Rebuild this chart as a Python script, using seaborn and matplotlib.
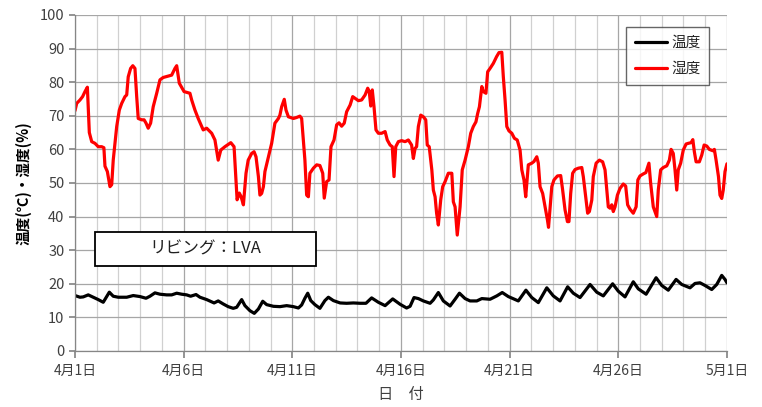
import pandas as pd
import matplotlib
matplotlib.use("Agg")
import matplotlib.pyplot as plt
from matplotlib.patches import Rectangle
import seaborn as sns

# days since 4/1 00:00 and values
hum_day = [0.00, 0.08, 0.23, 0.35, 0.46, 0.57, 0.66, 0.77, 0.92, 1.07, 1.23, 1.33, 1.38, 1.49, 1.61,
           1.69, 1.76, 1.92, 2.04, 2.15, 2.30, 2.38, 2.45, 2.56, 2.66, 2.76, 2.84, 2.91, 3.07, 3.18,
           3.27, 3.37, 3.48, 3.60, 3.76, 3.91, 4.06, 4.29, 4.45, 4.60, 4.68, 4.80, 5.02, 5.29, 5.37,
           5.52, 5.67, 5.90, 6.06, 6.29, 6.44, 6.59, 6.71, 6.90, 7.17, 7.32, 7.46, 7.56, 7.64, 7.75,
           7.87, 7.97, 8.13, 8.24, 8.33, 8.44, 8.51, 8.59, 8.67, 8.74, 8.90, 9.05, 9.20, 9.36, 9.43,
           9.51, 9.63, 9.71, 9.82, 10.05, 10.20, 10.35, 10.43, 10.51, 10.58, 10.66, 10.74, 10.81, 10.97, 11.12,
           11.27, 11.40, 11.47, 11.58, 11.69, 11.78, 11.92, 12.04, 12.15, 12.27, 12.39, 12.50, 12.66, 12.78, 12.89,
           13.04, 13.19, 13.35, 13.47, 13.54, 13.61, 13.68, 13.76, 13.85, 13.96, 14.11, 14.27, 14.37, 14.50, 14.60,
           14.68, 14.76, 14.88, 15.03, 15.19, 15.34, 15.49, 15.57, 15.65, 15.72, 15.80, 15.91, 16.03, 16.14, 16.21,
           16.30, 16.42, 16.49, 16.57, 16.64, 16.72, 16.83, 16.92, 17.03, 17.18, 17.34, 17.41, 17.49, 17.59, 17.72,
           17.82, 17.95, 18.10, 18.21, 18.33, 18.45, 18.53, 18.61, 18.72, 18.79, 18.91, 18.99, 19.10, 19.25, 19.40,
           19.51, 19.64, 19.71, 19.79, 19.87, 19.97, 20.10, 20.22, 20.35, 20.48, 20.56, 20.66, 20.74, 20.86, 21.02,
           21.12, 21.25, 21.32, 21.40, 21.52, 21.63, 21.74, 21.79, 21.94, 22.04, 22.20, 22.35, 22.43, 22.55, 22.66,
           22.73, 22.81, 22.90, 23.01, 23.16, 23.32, 23.39, 23.50, 23.59, 23.67, 23.78, 23.85, 23.98, 24.13, 24.28,
           24.39, 24.47, 24.54, 24.62, 24.70, 24.77, 24.85, 24.96, 25.08, 25.23, 25.34, 25.43, 25.54, 25.69, 25.82,
           25.90, 26.00, 26.15, 26.27, 26.41, 26.49, 26.61, 26.77, 26.84, 26.95, 27.07, 27.23, 27.35, 27.43, 27.53,
           27.61, 27.69, 27.76, 27.87, 27.99, 28.12, 28.22, 28.35, 28.43, 28.50, 28.58, 28.73, 28.84, 28.95, 29.07,
           29.19, 29.35, 29.42, 29.50, 29.61, 29.68, 29.76, 29.83, 29.91, 30.00]
hum_val = [71.5, 73.7, 74.7, 75.7, 77.2, 78.5, 65.0, 62.3, 61.8, 60.8, 60.8, 60.5, 55.0, 53.4, 48.9,
           49.5, 56.8, 66.8, 71.7, 73.7, 75.7, 76.2, 81.6, 84.1, 84.9, 84.1, 75.7, 69.2, 68.8, 68.8,
           67.8, 66.3, 67.8, 72.7, 76.7, 80.7, 81.4, 81.8, 82.1, 84.1, 84.9, 79.7, 77.2, 76.7, 74.7,
           71.7, 69.2, 65.8, 66.3, 64.8, 62.8, 56.8, 59.8, 60.8, 62.0, 60.8, 45.0, 47.0, 46.0, 43.5,
           52.9, 56.8, 58.8, 59.3, 57.8, 51.9, 46.4, 46.9, 48.9, 53.4, 57.8, 61.8, 67.8, 69.2, 70.2,
           72.7, 74.9, 71.7, 69.7, 69.2, 69.5, 69.9, 69.2, 62.8, 56.8, 46.4, 45.9, 52.9, 54.4, 55.4,
           55.2, 52.9, 45.5, 50.4, 50.9, 60.8, 62.8, 67.3, 67.9, 66.9, 67.8, 71.2, 73.2, 75.7, 75.2,
           74.5, 74.7, 76.2, 78.2, 77.2, 72.9, 77.7, 72.7, 65.8, 64.8, 64.8, 65.3, 62.8, 61.3, 60.8,
           51.9, 60.8, 62.3, 62.6, 62.3, 62.8, 61.3, 57.3, 60.3, 60.8, 66.8, 70.2, 69.7, 68.8, 61.3,
           60.8, 53.9, 47.9, 45.9, 41.0, 37.5, 45.0, 48.9, 50.4, 52.9, 52.9, 44.4, 42.9, 34.5, 42.9,
           53.9, 56.8, 60.8, 64.8, 66.8, 68.2, 70.7, 72.7, 78.7, 77.2, 76.7, 83.1, 84.1, 85.6, 87.6,
           88.8, 88.9, 81.6, 74.7, 66.8, 65.5, 64.8, 63.3, 62.8, 59.8, 53.9, 50.9, 45.9, 55.4, 55.9,
           56.4, 57.8, 55.9, 48.9, 46.9, 42.9, 39.0, 36.8, 48.9, 50.9, 52.1, 52.2, 48.4, 42.0, 38.5,
           38.5, 46.9, 52.9, 54.0, 54.4, 54.6, 51.9, 45.9, 41.0, 41.5, 44.9, 51.9, 55.9, 56.8, 56.3,
           53.9, 47.9, 42.9, 42.5, 43.5, 41.5, 42.9, 46.4, 48.4, 49.7, 49.1, 43.5, 42.2, 41.0, 42.9,
           50.9, 52.1, 52.7, 53.1, 55.9, 49.9, 42.9, 40.0, 47.9, 53.9, 54.6, 55.1, 56.8, 60.0, 58.8,
           53.9, 47.9, 53.9, 55.9, 59.8, 61.6, 61.8, 62.0, 62.9, 59.3, 56.3, 56.3, 58.3, 61.3, 61.0,
           60.0, 59.6, 60.0, 56.8, 51.9, 46.4, 45.4, 47.9, 53.4, 55.7]

temp_day = [0.00, 0.23, 0.38, 0.61, 0.84, 1.07, 1.30, 1.58, 1.76, 1.99, 2.38, 2.68, 2.99, 3.27, 3.45,
            3.68, 3.91, 4.22, 4.45, 4.68, 4.91, 5.14, 5.32, 5.57, 5.75, 6.06, 6.40, 6.59, 6.82, 7.05,
            7.28, 7.44, 7.67, 7.82, 8.05, 8.25, 8.44, 8.64, 8.82, 9.13, 9.43, 9.74, 10.05, 10.28, 10.43,
            10.58, 10.71, 10.85, 11.04, 11.27, 11.50, 11.66, 11.89, 12.20, 12.50, 12.81, 13.12, 13.39, 13.65, 13.96,
            14.27, 14.62, 14.96, 15.26, 15.42, 15.60, 15.80, 16.03, 16.34, 16.49, 16.72, 16.95, 17.26, 17.49, 17.69,
            17.95, 18.18, 18.49, 18.72, 19.10, 19.41, 19.66, 19.94, 20.40, 20.75, 21.02, 21.32, 21.71, 22.01, 22.32,
            22.67, 22.93, 23.24, 23.70, 24.01, 24.31, 24.74, 25.00, 25.31, 25.69, 25.92, 26.28, 26.74, 27.00, 27.30,
            27.66, 27.92, 28.30, 28.53, 28.76, 28.99, 29.30, 29.53, 29.76, 29.91, 30.00]
temp_val = [16.5, 16.0, 16.1, 16.7, 16.0, 15.3, 14.5, 17.5, 16.3, 16.0, 16.0, 16.5, 16.2, 15.7, 16.3,
            17.3, 16.9, 16.7, 16.7, 17.2, 16.9, 16.7, 16.3, 16.8, 16.0, 15.3, 14.3, 14.9, 14.0, 13.2,
            12.7, 13.0, 15.3, 13.5, 12.0, 11.2, 12.5, 14.8, 13.8, 13.3, 13.2, 13.5, 13.2, 12.8, 13.7,
            15.7, 17.2, 15.0, 13.8, 12.7, 15.0, 16.0, 15.0, 14.3, 14.2, 14.3, 14.2, 14.2, 15.8, 14.5,
            13.5, 15.5, 13.9, 12.8, 13.3, 15.9, 15.6, 14.9, 14.2, 15.2, 17.4, 14.9, 13.4, 15.4, 17.2,
            15.6, 14.9, 14.9, 15.6, 15.4, 16.4, 17.4, 16.2, 14.9, 18.1, 15.9, 14.4, 18.8, 16.4, 14.9,
            19.1, 17.2, 15.9, 19.8, 17.5, 16.4, 20.0, 17.8, 16.1, 20.6, 18.5, 16.9, 21.8, 19.5, 18.1,
            21.3, 19.8, 18.8, 20.1, 20.3, 19.5, 18.3, 19.8, 22.5, 21.3, 20.3]

tick_days = [0, 5, 10, 15, 20, 25, 30]
tick_labels = ["4月1日", "4月6日", "4月11日", "4月16日", "4月21日", "4月26日", "5月1日"]
series_names = ["温度", "湿度"]

df = pd.concat([
    pd.DataFrame({"day": temp_day, "value": temp_val, "series": series_names[0]}),
    pd.DataFrame({"day": hum_day, "value": hum_val, "series": series_names[1]}),
])

sns.set_theme(style="white")
plt.rcParams["font.family"] = ["Noto Sans CJK JP", "DejaVu Sans"]

fig = plt.figure(figsize=(7.62, 4.07), dpi=100)
ax = fig.add_axes([0.0984, 0.1376, 0.8556, 0.8256])

sns.lineplot(data=df, x="day", y="value", hue="series", estimator=None, sort=False,
             palette={"温度": "black", "湿度": "#ff0000"}, linewidth=2.3, ax=ax)

ax.set_xlim(0, 30)
ax.set_ylim(0, 100)
ax.set_xticks(tick_days)
ax.set_xticklabels(tick_labels, fontsize=10, color="#404040")
ax.set_xticks(range(0, 31), minor=True)
ax.set_yticks(range(0, 101, 10))
ax.tick_params(axis="y", labelsize=10.5, labelcolor="#404040", length=4, color="#868686", direction="out", left=True)
ax.tick_params(axis="x", which="major", length=5, color="#868686", direction="out", bottom=True, pad=4)
ax.tick_params(axis="x", which="minor", length=0)
ax.grid(True, which="major", axis="both", color="#a6a6a6", linewidth=0.9)
ax.grid(True, which="minor", axis="x", color="#d0d0d0", linewidth=0.9)
ax.set_axisbelow(True)
for side in ["top", "right"]:
    ax.spines[side].set_visible(False)
for side in ["left", "bottom"]:
    ax.spines[side].set_color("#868686")
    ax.spines[side].set_linewidth(0.9)

ax.set_xlabel("日　付", fontsize=11, color="#404040", labelpad=6)
ax.set_ylabel("温度(℃)・湿度(%)", fontsize=10.5, fontweight="bold", color="#000000", labelpad=6)

leg = ax.legend(loc="upper right", bbox_to_anchor=(0.9725, 0.964), borderaxespad=0,
                fontsize=10.5, frameon=True, fancybox=False, edgecolor="#404040",
                handlelength=2.2, handletextpad=0.3, labelspacing=0.85, borderpad=0.6)
leg.get_frame().set_linewidth(1.0)
leg.set_title(None)

# label box for the measured room
ax.add_patch(Rectangle((0.03, 0.253), 0.34, 0.102, transform=ax.transAxes,
                       facecolor="white", edgecolor="black", linewidth=1.3, zorder=4))
ax.text(0.2, 0.304, "リビング：LVA", transform=ax.transAxes, ha="center", va="center",
        fontsize=12, color="#202020", zorder=5)

fig.savefig("out.png", dpi=100)
